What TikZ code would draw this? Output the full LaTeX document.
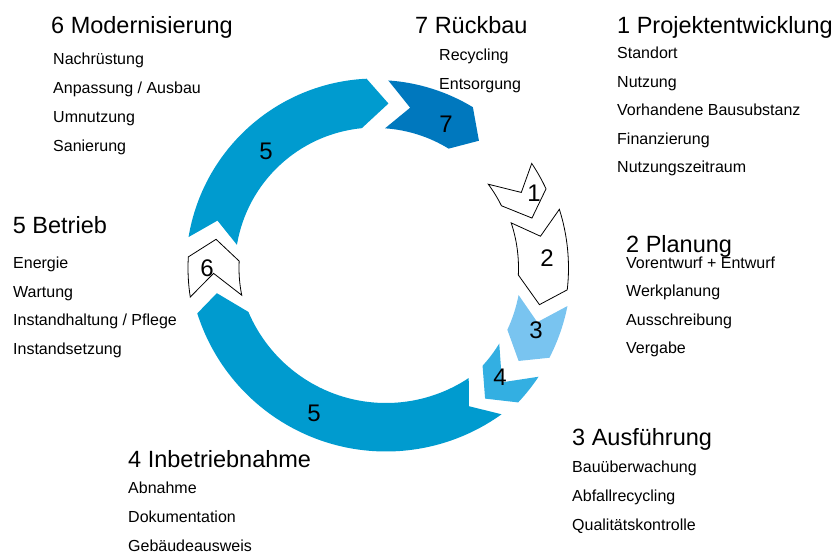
\documentclass[tikz,border=0pt]{standalone}
\usepackage{fontspec}
\setmainfont{Liberation Sans}
\usepackage{tikz}
\usetikzlibrary{positioning}
\definecolor{cycMid}{HTML}{009BCF}
\definecolor{cycDark}{HTML}{0078BE}
\definecolor{cycLight}{HTML}{79C4F0}
\definecolor{cycSky}{HTML}{33AFE2}
\tikzset{
  phase/.style={anchor=base west, inner sep=0pt, font=\fontsize{23.5}{27}\selectfont},
  task/.style={anchor=base west, inner sep=0pt, font=\fontsize{16}{19}\selectfont},
  segnum/.style={inner sep=0pt, font=\fontsize{24}{28}\selectfont},
  segmid/.style={fill=cycMid},
  segdark/.style={fill=cycDark},
  seglight/.style={fill=cycLight},
  segsky/.style={fill=cycSky},
  segopen/.style={draw=black, fill=white, line width=0.8pt}
}

\begin{document}
\begin{tikzpicture}[x=1pt, y=-1pt]
  \useasboundingbox (0,0) rectangle (839,554);
  % ring of chevron arcs: centre, tail/head angles (outer, inner), radii, notch, tip
  \foreach \cx/\cy/\ta/\tb/\ha/\hb/\ro/\ri/\nt/\tp/\sty in {
    375.5/268/189.4/189.5/267.3/264.4/189.5/140.5/196.7/274.5/segmid,
    375.5/268/273.9/273.9/301.2/301.5/188/140/282.2/309.1/segdark,
    375.5/268/326.2/323.4/335.1/333.7/188/140.5/332.6/342.3/segopen,
    375.5/268/342.3/341.6/366.5/362.8/193/143/349.1/372.6/segopen,
    375.5/268/371.2/370.7/387.3/385.1/195.7/145.6/378.5/393/seglight,
    375.5/268/393.7/391.4/403.3/402.4/196/145/402.1/410/segsky,
    386/253.5/414.3/416.4/522.4/517/198/149.5/421.5/526.8/segmid,
    375.5/268/531.1/528.5/543.4/542.9/187.5/136.5/538.1/550.2/segopen}{
    \path[\sty, shift={(\cx,\cy)}]
      (\ta:\ro) arc[start angle=\ta, end angle=\ha, radius=\ro]
      -- (\tp:{(\ro+\ri)/2}) -- (\hb:\ri)
      arc[start angle=\hb, end angle=\tb, radius=\ri]
      -- (\nt:{(\ro+\ri)/2}) -- cycle;
  }

  % numbers on the ring
  \node[segnum] (num-mod) at (266,151) {5};
  \node[segnum] (num-rueck) at (446,124) {7};
  \node[segnum] (num-proj) at (534,193) {1};
  \node[segnum] (num-plan) at (547,258) {2};
  \node[segnum] (num-ausf) at (536,330) {3};
  \node[segnum] (num-inbe) at (500,377) {4};
  \node[segnum] (num-betr) at (314,413) {5};
  \node[segnum] (num-six) at (207,268) {6};

  % phases and their tasks
  \node[phase] (mod) at (51,33) {6 Modernisierung};
  \foreach \txt [count=\i] in {Nachrüstung, Anpassung / Ausbau, Umnutzung, Sanierung}
    \node[task] (mod-\i) at (53,{35.5+29*\i}) {\txt};

  \node[phase] (rueck) at (415,33) {7 Rückbau};
  \foreach \txt [count=\i] in {Recycling, Entsorgung}
    \node[task] (rueck-\i) at (439,{31.5+29*\i}) {\txt};

  \node[phase] (proj) at (617,33) {1 Projektentwicklung};
  \foreach \txt [count=\i] in {Standort, Nutzung, Vorhandene Bausubstanz, Finanzierung, Nutzungszeitraum}
    \node[task] (proj-\i) at (617,{30+28.5*\i}) {\txt};

  \node[phase] (plan) at (626,252) {2 Planung};
  \foreach \txt [count=\i] in {Vorentwurf + Entwurf, Werkplanung, Ausschreibung, Vergabe}
    \node[task] (plan-\i) at (626,{240.1+28.4*\i}) {\txt};

  \node[phase] (ausf) at (572,445) {3 Ausführung};
  \foreach \txt [count=\i] in {Bauüberwachung, Abfallrecycling, Qualitätskontrolle}
    \node[task] (ausf-\i) at (572,{443.5+29*\i}) {\txt};

  \node[phase] (inbe) at (128,467) {4 Inbetriebnahme};
  \foreach \txt [count=\i] in {Abnahme, Dokumentation, Gebäudeausweis}
    \node[task] (inbe-\i) at (128,{464.5+29*\i}) {\txt};

  \node[phase] (betr) at (12.7,233.5) {5 Betrieb};
  \foreach \txt [count=\i] in {Energie, Wartung, Instandhaltung / Pflege, Instandsetzung}
    \node[task] (betr-\i) at (13,{239.8+28.7*\i}) {\txt};
\end{tikzpicture}
\end{document}
